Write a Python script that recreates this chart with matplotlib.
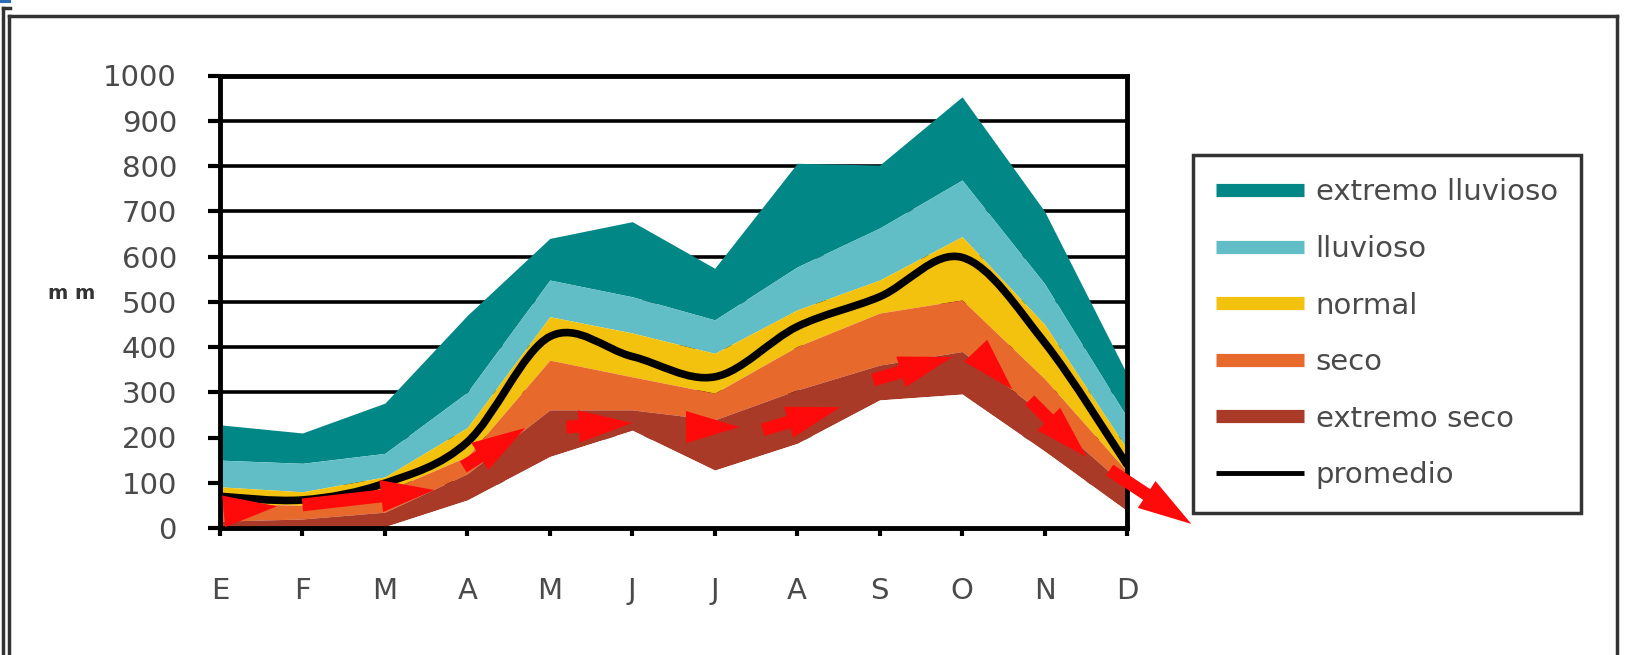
import matplotlib
matplotlib.use('Agg')
import matplotlib.pyplot as plt
from matplotlib.lines import Line2D
from matplotlib.path import Path
from matplotlib.patches import PathPatch

# monthly rainfall scenarios (mm)
months = ['E', 'F', 'M', 'A', 'M', 'J', 'J', 'A', 'S', 'O', 'N', 'D']
ext_lluvioso = [228, 210, 276, 470, 640, 677, 574, 806, 802, 953, 700, 340]
lluvioso = [150, 143, 165, 300, 548, 511, 460, 577, 663, 769, 540, 245]
normal = [91, 80, 113, 222, 467, 431, 386, 482, 548, 644, 450, 175]
seco = [55, 50, 80, 158, 371, 334, 298, 401, 475, 504, 330, 125]
ext_seco = [15, 20, 35, 120, 261, 261, 239, 305, 360, 390, 250, 90]
minimo = [0, 0, 3, 62, 158, 216, 128, 187, 283, 296, 170, 38]
promedio = [70, 62, 99, 190, 423, 379, 334, 445, 511, 598, 410, 140]

# red trend arrows: (x0, y0, x1, y1, head only?)
trend = [(0.0, 36, 0.69, 48, True),
         (1.0, 51, 2.6, 84, False),
         (2.95, 135, 3.7, 221, False),
         (4.2, 223, 5.0, 232, False),
         (5.66, 223, 6.3, 223, False),
         (6.58, 217, 7.52, 267, False),
         (7.92, 327, 8.88, 378, False),
         (9.19, 387, 9.61, 306, True),
         (9.82, 283, 10.51, 157, False),
         (10.79, 128, 11.78, 9, False)]

c_teal = '#028787'
c_light = '#62BEC6'
c_yellow = '#F3C20E'
c_orange = '#E8692C'
c_brown = '#A93A27'
c_red = '#FF0A0A'
c_text = '#4a4a4a'

plt.rcParams['font.family'] = ['DejaVu Sans']

fig = plt.figure(figsize=(16.26, 6.55), dpi=100)
ax = fig.add_axes([220 / 1626, 1 - 528 / 655, 907 / 1626, 452.5 / 655])

x = list(range(len(months)))
ax.fill_between(x, lluvioso, ext_lluvioso, color=c_teal, lw=0, zorder=2)
ax.fill_between(x, normal, lluvioso, color=c_light, lw=0, zorder=2)
ax.fill_between(x, seco, normal, color=c_yellow, lw=0, zorder=2)
ax.fill_between(x, ext_seco, seco, color=c_orange, lw=0, zorder=2)
ax.fill_between(x, minimo, ext_seco, color=c_brown, lw=0, zorder=2)
ax.fill_between(x, 0, minimo, color='white', lw=0, zorder=2)

# smoothed average line (Catmull-Rom through the monthly points)
verts = [(x[0], promedio[0])]
codes = [Path.MOVETO]
n = len(x)
for i in range(n - 1):
    p0 = (x[max(i - 1, 0)], promedio[max(i - 1, 0)])
    p1 = (x[i], promedio[i])
    p2 = (x[i + 1], promedio[i + 1])
    p3 = (x[min(i + 2, n - 1)], promedio[min(i + 2, n - 1)])
    c1 = (p1[0] + (p2[0] - p0[0]) / 6, p1[1] + (p2[1] - p0[1]) / 6)
    c2 = (p2[0] - (p3[0] - p1[0]) / 6, p2[1] - (p3[1] - p1[1]) / 6)
    verts += [c1, c2, p2]
    codes += [Path.CURVE4] * 3
ax.add_patch(PathPatch(Path(verts, codes), fill=False, color='black',
                       lw=5.5, capstyle='round', zorder=3))

for x0, y0, x1, y1, head_only in trend:
    if head_only:
        style = '-|>,head_length=1.75,head_width=0.52'
    else:
        style = 'simple,head_length=1.75,head_width=1.05,tail_width=0.42'
    ax.annotate('', xy=(x1, y1), xytext=(x0, y0), annotation_clip=False,
                arrowprops=dict(arrowstyle=style, color=c_red, lw=0,
                                shrinkA=0, shrinkB=0, mutation_scale=22),
                zorder=4)

ax.set_xlim(0, 11)
ax.set_ylim(0, 1000)
ax.set_xticks(x)
ax.set_xticklabels(months)
ax.set_yticks(range(0, 1001, 100))
ax.yaxis.grid(True, color='black', lw=2.6)
ax.set_axisbelow(True)
for s in ax.spines.values():
    s.set_linewidth(3.5)
    s.set_color('black')
ax.tick_params(axis='y', length=9, width=3, pad=22, labelsize=21, labelcolor=c_text)
ax.tick_params(axis='x', length=6, width=3, pad=29, labelsize=21, labelcolor=c_text)

fig.text(72 / 1626, 1 - 293 / 655, 'm m', fontsize=14, fontweight='bold',
         color='#333333', ha='center', va='center')

handles = [Line2D([], [], color=c_teal, lw=9.5, solid_capstyle='butt'),
           Line2D([], [], color=c_light, lw=9.5, solid_capstyle='butt'),
           Line2D([], [], color=c_yellow, lw=9.5, solid_capstyle='butt'),
           Line2D([], [], color=c_orange, lw=9.5, solid_capstyle='butt'),
           Line2D([], [], color=c_brown, lw=9.5, solid_capstyle='butt'),
           Line2D([], [], color='black', lw=3.5, solid_capstyle='butt')]
labels = ['extremo lluvioso', 'lluvioso', 'normal', 'seco', 'extremo seco', 'promedio']
leg = fig.legend(handles, labels, loc='upper left',
                 bbox_to_anchor=(1193 / 1626, 1 - 155 / 655),
                 bbox_transform=fig.transFigure, borderaxespad=0,
                 fontsize=21, labelcolor=c_text, frameon=True, fancybox=False,
                 handlelength=3.0, handletextpad=0.4, labelspacing=0.98,
                 borderpad=0.8)
leg.get_frame().set_edgecolor('black')
leg.get_frame().set_linewidth(2.5)

# outer frame of the picture
W, H = 1626, 655
def fline(xs, ys, lw=2.5, color='#333333'):
    fig.add_artist(Line2D([v / W for v in xs], [1 - v / H for v in ys],
                          color=color, lw=lw, transform=fig.transFigure))
fline([9, 1617], [16, 16])
fline([9, 9], [16, 660])
fline([3, 3], [8, 660])
fline([3, 10], [8, 8])
fline([1617, 1617], [16, 660])
fline([0, 9], [1, 1], lw=3, color='#2a6fb5')

fig.savefig('out.png', dpi=100)
